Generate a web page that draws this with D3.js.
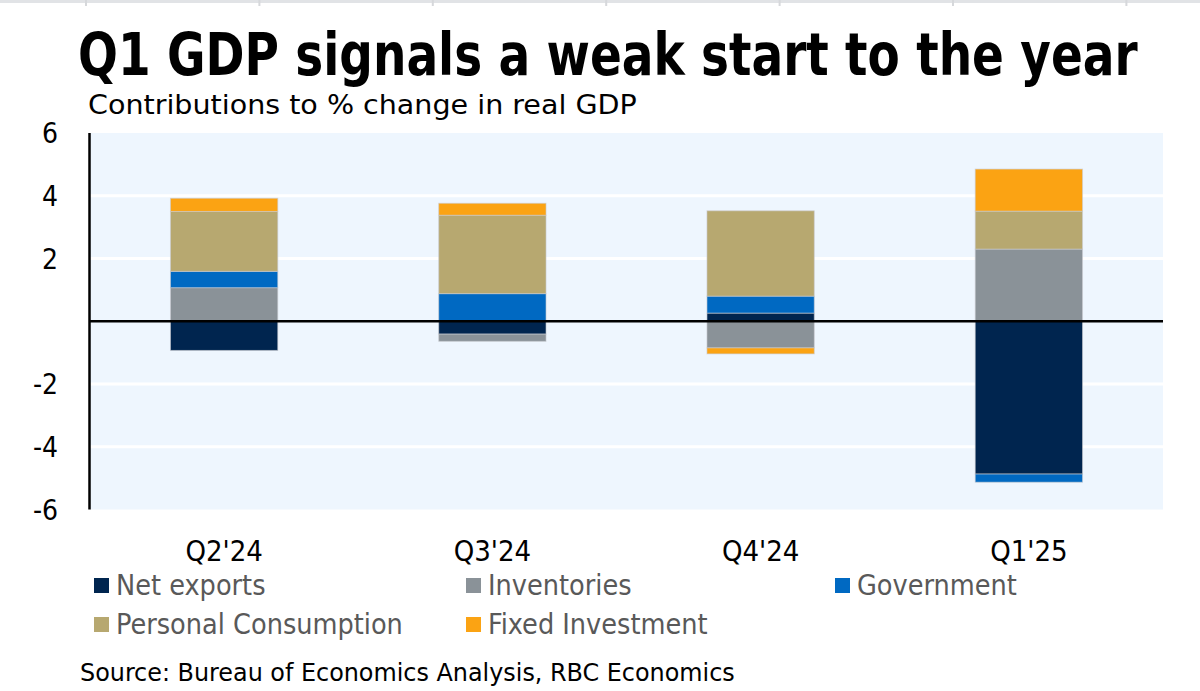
<!DOCTYPE html>
<html>
<head>
<meta charset="utf-8">
<script src="https://cdn.jsdelivr.net/npm/d3@7"></script>
<style>
  html, body { margin: 0; padding: 0; background: #ffffff; }
  svg { display: block; }
  text { font-family: "DejaVu Sans Condensed", "DejaVu Sans", sans-serif; }
</style>
</head>
<body>
<svg id="chart" width="1200" height="691"></svg>
<script>
// ---------- data ----------
const categories = ["Q2'24", "Q3'24", "Q4'24", "Q1'25"];
const seriesNames = ["Net exports", "Inventories", "Government", "Personal Consumption", "Fixed Investment"];
const netExports   = [-0.93, -0.41,  0.26, -4.87];
const inventories  = [ 1.07, -0.23, -0.85,  2.30];
const government   = [ 0.52,  0.88,  0.54, -0.26];
const consumption  = [ 1.91,  2.50,  2.72,  1.21];
const fixedInvest  = [ 0.42,  0.38, -0.19,  1.34];
const yTicks = [-6, -4, -2, 0, 2, 4, 6];
const yTickLabels = ["-6", "-4", "-2", "", "2", "4", "6"];
const title = "Q1 GDP signals a weak start to the year";
const subtitle = "Contributions to % change in real GDP";
const source = "Source: Bureau of Economics Analysis, RBC Economics";

// ---------- styles ----------
const colors = ["#00254F", "#8A9298", "#0069C2", "#B7A870", "#FBA313"];
const seriesArrays = [netExports, inventories, government, consumption, fixedInvest];

const svg = d3.select("#chart");

// helper: fit a text to a target width by horizontal scaling
function fitText(sel, x0, y0, targetW) {
  const w = sel.node().getComputedTextLength();
  const s = targetW / w;
  sel.attr("x", 0).attr("y", 0)
     .attr("transform", `translate(${x0},${y0}) scale(${s},1)`);
}

// top grey band (screen chrome)
svg.append("rect").attr("x", 0).attr("y", 0).attr("width", 1200).attr("height", 3).attr("fill", "#e1e3e6");
d3.range(7).forEach(i => {
  svg.append("rect").attr("x", 85 + i * 173.4).attr("y", 0).attr("width", 2).attr("height", 6).attr("fill", "#d6d8db");
});

// scales
const plot = { left: 90, right: 1163, top: 133, bottom: 509.5 };
const x = d3.scaleBand().domain(categories).range([plot.left, plot.right]).paddingInner(0.6).paddingOuter(0.3);
const y = d3.scaleLinear().domain([-6, 6]).range([plot.bottom, plot.top]);

// background
svg.append("rect")
  .attr("x", plot.left).attr("y", plot.top)
  .attr("width", plot.right - plot.left).attr("height", plot.bottom - plot.top)
  .attr("fill", "#EEF6FE");

// gridlines
svg.append("g").selectAll("line")
  .data(yTicks.filter(t => t !== 0 && Math.abs(t) !== 6))
  .join("line")
  .attr("x1", plot.left).attr("x2", plot.right)
  .attr("y1", d => y(d)).attr("y2", d => y(d))
  .attr("stroke", "#ffffff").attr("stroke-width", 3);

// stacked data
const table = categories.map((c, i) => {
  const row = { cat: c };
  seriesNames.forEach((s, k) => row[s] = seriesArrays[k][i]);
  return row;
});
const stack = d3.stack().keys(seriesNames).offset(d3.stackOffsetDiverging);
const stacked = stack(table);

svg.append("g").selectAll("g")
  .data(stacked)
  .join("g")
  .attr("fill", (d, i) => colors[i])
  .selectAll("rect")
  .data(d => d)
  .join("rect")
  .attr("x", d => x(d.data.cat))
  .attr("width", x.bandwidth())
  .attr("y", d => y(Math.max(d[0], d[1])))
  .attr("height", d => Math.abs(y(d[0]) - y(d[1])))
  .attr("stroke", "#c9ccd0")
  .attr("stroke-opacity", 0.6)
  .attr("stroke-width", 1);

// zero line
svg.append("line")
  .attr("x1", plot.left).attr("x2", plot.right)
  .attr("y1", y(0)).attr("y2", y(0))
  .attr("stroke", "#000").attr("stroke-width", 2.5);

// y axis line
svg.append("line")
  .attr("x1", plot.left - 0.5).attr("x2", plot.left - 0.5)
  .attr("y1", plot.top).attr("y2", plot.bottom)
  .attr("stroke", "#000").attr("stroke-width", 2.5);

// y tick labels
svg.append("g").selectAll("text")
  .data(yTicks)
  .join("text")
  .attr("x", 58)
  .attr("y", d => y(d))
  .attr("dy", "0.36em")
  .attr("text-anchor", "end")
  .attr("font-size", 28)
  .attr("fill", "#000")
  .text((d, i) => yTickLabels[i]);

// category labels
svg.append("g").selectAll("text")
  .data(categories)
  .join("text")
  .attr("x", d => x(d) + x.bandwidth() / 2)
  .attr("y", 561)
  .attr("text-anchor", "middle")
  .attr("font-size", 29)
  .attr("fill", "#000")
  .text(d => d);

// title / subtitle
const titleText = svg.append("text")
  .attr("font-size", 58).attr("font-weight", "bold")
  .attr("fill", "#000")
  .text(title);
fitText(titleText, 78, 75, 1060);

const subText = svg.append("text")
  .attr("font-size", 27)
  .attr("fill", "#000")
  .text(subtitle);
fitText(subText, 88, 114, 549);

// legend
const legendPos = [[94, 585], [466, 585], [835, 585], [94, 624], [466, 624]];
const lg = svg.append("g").selectAll("g")
  .data(seriesNames)
  .join("g")
  .attr("transform", (d, i) => `translate(${legendPos[i][0]},${legendPos[i][1]})`);
lg.append("rect").attr("x", 0).attr("y", -7).attr("width", 15).attr("height", 15)
  .attr("fill", (d, i) => colors[i]);
lg.append("text").attr("x", 22).attr("y", 0).attr("dy", "0.36em")
  .attr("font-size", 28.5).attr("fill", "#595959")
  .text(d => d);

// source
const srcText = svg.append("text")
  .attr("font-size", 24)
  .attr("fill", "#000")
  .text(source);
fitText(srcText, 80, 681, 655);
</script>
</body>
</html>
